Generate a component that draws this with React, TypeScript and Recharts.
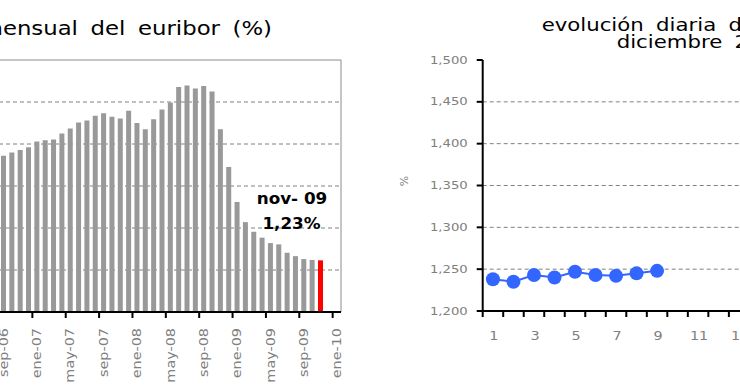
import React from "react";
import {
  BarChart,
  Bar,
  Cell,
  LineChart,
  Line,
  XAxis,
  YAxis,
  CartesianGrid,
  ReferenceArea,
} from "recharts";

// monthly 12m euribor average (%), sep-06 .. ene-10
const months = [
  "sep-06", "oct-06", "nov-06", "dic-06",
  "ene-07", "feb-07", "mar-07", "abr-07", "may-07", "jun-07",
  "jul-07", "ago-07", "sep-07", "oct-07", "nov-07", "dic-07",
  "ene-08", "feb-08", "mar-08", "abr-08", "may-08", "jun-08",
  "jul-08", "ago-08", "sep-08", "oct-08", "nov-08", "dic-08",
  "ene-09", "feb-09", "mar-09", "abr-09", "may-09", "jun-09",
  "jul-09", "ago-09", "sep-09", "oct-09", "nov-09", "dic-09", "ene-10",
];
const euribor = [
  3.72, 3.8, 3.86, 3.92,
  4.06, 4.09, 4.11, 4.25, 4.37, 4.51, 4.56, 4.67, 4.73, 4.65, 4.61, 4.79,
  4.5, 4.35, 4.59, 4.82, 4.99, 5.36, 5.39, 5.32, 5.38, 5.25, 4.35, 3.45,
  2.62, 2.14, 1.91, 1.77, 1.64, 1.61, 1.41, 1.33, 1.26, 1.24, 1.23,
];
const monthlyTicks = [0, 1, 2, 3, 4, 5, 6];
const monthlyGrid = [1, 2, 3, 4, 5];

// daily values, december
const days = [1, 2, 3, 4, 5, 6, 7, 8, 9, 10, 11, 12, 13, 14, 15, 16, 17, 18, 19, 20, 21, 22];
const daily = [1.238, 1.235, 1.243, 1.24, 1.247, 1.243, 1.242, 1.245, 1.248];
const dailyTicks = [1.2, 1.25, 1.3, 1.35, 1.4, 1.45, 1.5];
const dailyGrid = [1.25, 1.3, 1.35, 1.4, 1.45];

const monthlyRows = months.map((m, i) => ({ month: m, value: euribor[i] ?? null }));
const lastIdx = euribor.length - 1;
const dailyRows = days.map((d, i) => ({ day: d, value: daily[i] ?? null }));

const GRAY_TXT = "#808080";
const L_W = 345;
const L_PLOT = 342;
const R_W = 564;
const R_AXIS_W = 102.7;
const R_PLOT = R_W - R_AXIS_W - 10;

function MonthTick(props: any) {
  const { x, y, payload } = props;
  const half = L_PLOT / months.length / 2;
  return (
    <g>
      <line x1={x - half} x2={x - half} y1={y} y2={y + 6} stroke="#000" strokeWidth={2} />
      <text
        transform={`translate(${x + 0.5},${y + 16}) rotate(-90) scale(1.2,1)`}
        textAnchor="end"
        dominantBaseline="central"
        fill={GRAY_TXT}
        fontSize={12}
      >
        {payload.value}
      </text>
    </g>
  );
}

function DayTick(props: any) {
  const { x, y, payload } = props;
  const half = R_PLOT / days.length / 2;
  return (
    <g>
      <line x1={x - half} x2={x - half} y1={y} y2={y + 6} stroke="#000" strokeWidth={2} />
      {payload.value % 2 === 1 && (
        <text
          transform={`translate(${x + 1},${y + 25}) scale(1.2,1)`}
          textAnchor="middle"
          dominantBaseline="central"
          fill={GRAY_TXT}
          fontSize={12}
        >
          {payload.value}
        </text>
      )}
    </g>
  );
}

function RateTick(props: any) {
  const { x, y, payload } = props;
  return (
    <text
      transform={`translate(${x},${y}) scale(1.2,1)`}
      textAnchor="end"
      dominantBaseline="central"
      fill={GRAY_TXT}
      fontSize={11}
    >
      {payload.value.toFixed(3).replace(".", ",")}
    </text>
  );
}

export default function App() {
  return (
    <div
      style={{
        position: "absolute",
        left: 0,
        top: 0,
        width: 740,
        height: 389,
        overflow: "hidden",
        background: "#fff",
        fontFamily: "'DejaVu Sans', sans-serif",
      }}
    >
      <div style={{ position: "absolute", left: -1, top: 58 }}>
        <BarChart
          width={L_W}
          height={331}
          data={monthlyRows}
          margin={{ top: 2, right: 3, bottom: 0, left: 0 }}
          barSize={5}
        >
          <CartesianGrid
            vertical={false}
            horizontalValues={monthlyGrid}
            stroke="#808080"
            strokeDasharray="4 3"
          />
          <ReferenceArea y1={0} y2={6} fill="none" stroke="#8c8c8c" />
          <XAxis
            dataKey="month"
            interval={3}
            height={77}
            tickLine={false}
            tickSize={0}
            tickMargin={0}
            axisLine={{ stroke: "#000", strokeWidth: 2 }}
            tick={<MonthTick />}
          />
          <YAxis hide domain={[0, 6]} ticks={monthlyTicks} />
          <Bar dataKey="value" isAnimationActive={false}>
            {monthlyRows.map((d, i) => (
              <Cell key={d.month} fill={i === lastIdx ? "#ff0000" : "#999999"} />
            ))}
          </Bar>
        </BarChart>
      </div>

      <div style={{ position: "absolute", left: 380, top: 50 }}>
        <LineChart
          width={R_W}
          height={301}
          data={dailyRows}
          margin={{ top: 10, right: 10, bottom: 0, left: 0 }}
        >
          <CartesianGrid
            vertical={false}
            horizontalValues={dailyGrid}
            stroke="#808080"
            strokeDasharray="4 3"
          />
          <XAxis
            dataKey="day"
            scale="band"
            interval={0}
            height={40}
            tickLine={false}
            tickSize={0}
            tickMargin={0}
            axisLine={{ stroke: "#000", strokeWidth: 2 }}
            tick={<DayTick />}
          />
          <YAxis
            domain={[1.2, 1.5]}
            ticks={dailyTicks}
            width={R_AXIS_W}
            tickSize={6}
            tickMargin={9}
            axisLine={{ stroke: "#000", strokeWidth: 2 }}
            tickLine={{ stroke: "#000", strokeWidth: 2 }}
            tick={<RateTick />}
          />
          <Line
            dataKey="value"
            stroke="#3366ff"
            strokeWidth={2}
            dot={{ r: 7, fill: "#3366ff", stroke: "none" }}
            connectNulls={false}
            isAnimationActive={false}
          />
        </LineChart>
      </div>

      <svg
        width={740}
        height={389}
        style={{ position: "absolute", left: 0, top: 0, pointerEvents: "none" }}
      >
        <text
          transform="scale(1.2,1)"
          x={272 / 1.2}
          y={35}
          textAnchor="end"
          fontSize={19}
          fill="#000"
          style={{ wordSpacing: 4.5 }}
        >
          evolución mensual del euribor (%)
        </text>
        <text transform="scale(1.25,1)" x={541.7 / 1.25} y={31.5} fontSize={17} fill="#000" style={{ wordSpacing: 4.5 }}>
          evolución diaria del euribor (%)
        </text>
        <text transform="scale(1.25,1)" x={616.7 / 1.25} y={48.5} fontSize={17} fill="#000" style={{ wordSpacing: 4.5 }}>
          diciembre 2009
        </text>
        <text
          transform="scale(1.12,1)"
          x={292 / 1.12}
          y={204.5}
          textAnchor="middle"
          fontSize={15}
          fontWeight="bold"
          fill="#000"
        >
          nov- 09
        </text>
        <text
          transform="scale(1.12,1)"
          x={291.5 / 1.12}
          y={229.5}
          textAnchor="middle"
          fontSize={15}
          fontWeight="bold"
          fill="#000"
        >
          1,23%
        </text>
        <text
          transform="translate(404,181) rotate(-90)"
          textAnchor="middle"
          dominantBaseline="central"
          fontSize={11}
          fill={GRAY_TXT}
        >
          %
        </text>
      </svg>
    </div>
  );
}
